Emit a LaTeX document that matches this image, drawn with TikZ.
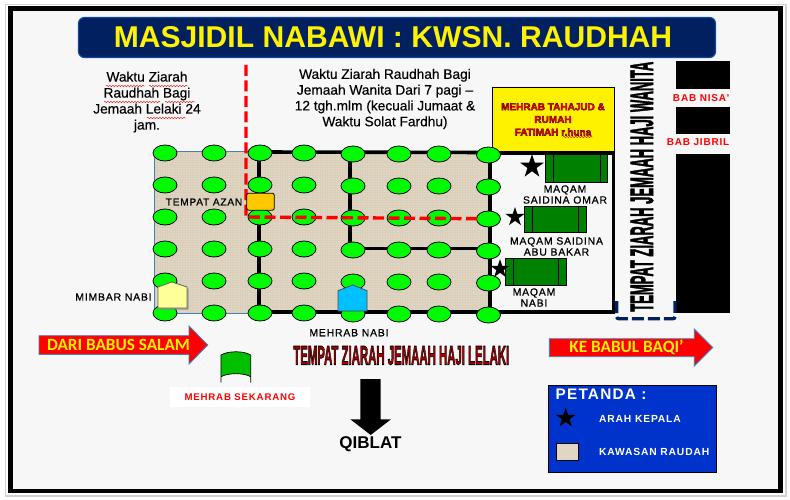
\documentclass[tikz,border=0pt]{standalone}
\usepackage{fontspec}
\usepackage{graphicx}
\setmainfont{Liberation Sans}
\newfontfamily\lsf[LetterSpace=8]{Liberation Sans}
\newfontfamily\lsfb[LetterSpace=8,FakeBold=0.7]{Liberation Sans}
\newfontfamily\regf[FakeBold=0.4]{Liberation Sans}
\newfontfamily\carl{Carlito}
\usetikzlibrary{shapes.geometric,decorations.pathmorphing}
\definecolor{navy}{HTML}{002060}
\definecolor{pillar}{HTML}{00FA00}
\definecolor{beige}{HTML}{DFD6C4}
\definecolor{beigeb}{HTML}{D9CFBA}
\definecolor{paper}{HTML}{F7F7F7}
\definecolor{tomb}{HTML}{008000}
\definecolor{arrowedge}{HTML}{4A7EBB}
\newcommand{\fs}[1]{\fontsize{#1}{#1}\selectfont}
\newcommand{\bls}[1]{\setlength{\baselineskip}{#1pt}}
\newcommand{\strk}[3]{\special{pdf:code 2 Tr #1 w #2 RG}#3\special{pdf:code 0 Tr}}
\tikzset{
  txt/.style={inner sep=0pt,align=center,text=black},
  pillarnode/.style={ellipse,draw=black,line width=.8pt,fill=pillar,minimum width=24pt,minimum height=16pt,inner sep=0pt},
  wall/.style={line width=3.6pt,draw=black,line cap=butt},
  tombbox/.style={draw=black,line width=.9pt,fill=tomb},
  tombbar/.style={draw=black,line width=.6pt},
  starnode/.style={star,star points=5,star point ratio=2.618,fill=black,inner sep=0pt},
  wavy/.style={draw=red!85!black,line width=.45pt,decorate,decoration={snake,amplitude=.6pt,segment length=3pt}},
  redarrow/.style={fill=red,draw=arrowedge,line width=.9pt,line join=miter},
  arrowtxt/.style={inner sep=0pt,text=yellow,font=\carl\bfseries\fs{17.2}},
  lab/.style={inner sep=0pt,align=center,text=black,font=\lsfb\fs{10.4}},
  redlab/.style={inner sep=0pt,text=red,font=\lsf\bfseries\fs{10}},
  whitelab/.style={inner sep=0pt,text=white,font=\lsf\bfseries\fs{10.3}},
}
\begin{document}
\begin{tikzpicture}[x=1pt,y=-1pt]
\useasboundingbox (0,0) rectangle (790,500);
% frame
\fill[white] (0,0) rectangle (790,500);
\fill[black!18] (5,4) rectangle (787,497);
\fill[white] (6,5) rectangle (785,495);
\fill[black] (8,6) rectangle (783,493);
\fill[paper] (12.5,11) rectangle (778,489);
% title
\node[draw={rgb,255:red,20;green,70;blue,160},line width=1.2pt,fill=navy,rounded corners=6pt,minimum width=637pt,minimum height=40pt,inner sep=0pt] (titlebox) at (397,37.5) {};
\node[inner sep=0pt,text=yellow,font=\bfseries\fs{30.1}] (title) at (393,37.5) {MASJIDIL NABAWI : KWSN. RAUDHAH};
% header texts
\node[txt,font=\regf\fs{13.7}\bls{16}] (leftnote) at (147,102) {Waktu Ziarah\\Raudhah Bagi\\Jemaah Lelaki 24\\jam.};
\node[txt,font=\regf\fs{13.7}\bls{15.8}] (rightnote) at (385,99) {Waktu Ziarah Raudhah Bagi\\Jemaah Wanita Dari 7 pagi –\\12 tgh.mlm (kecuali Jumaat \&\\Waktu Solat Fardhu)};
\draw[wavy] (106,86) -- (145,86);
\draw[wavy] (149,86) -- (188,86);
\draw[wavy] (104,102) -- (160,102);
\draw[wavy] (165,102) -- (195,102);
\draw[wavy] (147,118) -- (186,118);
% raudhah area
\fill[beige] (154.5,151.5) rectangle (490,313);
\begin{scope}
\clip (154.5,151.5) rectangle (490,313);
\draw[beigeb,line width=.5pt,step=2.5pt] (154,151) grid (491,314);
\end{scope}
\draw[arrowedge,line width=.8pt] (260,151.5) -- (154.5,151.5) -- (154.5,313) -- (260,313);
% yellow box
\node[draw=black,line width=.9pt,fill=yellow,minimum width=122pt,minimum height=64pt,inner sep=0pt] (mehrabbox) at (553,119) {};
\node[inner sep=0pt,align=center,text=red,font=\bfseries\fs{10}\bls{12.7}] (mehrabtxt) at (553,119.5) {\strk{.35}{.35 0 0}{MEHRAB TAHAJUD \&}\\\strk{.35}{.35 0 0}{RUMAH}\\\strk{.35}{.35 0 0}{FATIMAH r.huna}};
\draw[wavy] (563,137) -- (593,137);
% walls
\draw[wall] (259,152) -- (490,152.5) -- (490,312) -- (259,312) -- cycle;
\draw[wall] (350,152) -- (350,250);
\draw[wall] (350,248.5) -- (490,248.5);
\draw[wall] (490,153) -- (615,153);
\draw[wall] (613.3,152) -- (613.3,313.5);
\draw[wall] (490,311.7) -- (615,311.7);
% pillars
\foreach \x/\c [count=\i] in {165/0,214/0,260/0,304/0,353/1,399/1,439/1,488.5/2}{
  \foreach \y [count=\j] in {153,185,217,249,281,313}{
    \node[pillarnode] (p\i-\j) at (\x,\y+\c) {};
  }
}
% red dashed route
\coordinate (routea) at (246,65);
\coordinate (routeb) at (246,217);
\coordinate (routec) at (478,218.7);
\draw[red,line width=3.4pt,dash pattern=on 11pt off 4.5pt] (routea) -- (routeb) -- (routec);
% azan
\node[draw=black,line width=.8pt,fill={rgb,255:red,255;green,200;blue,0},rounded corners=2pt,minimum width=27.5pt,minimum height=17pt,inner sep=0pt] (azanbox) at (260.5,201.7) {};
\node[lab,font=\lsfb\fs{10.1}] (azan) at (204,202) {TEMPAT AZAN};
% mimbar and mehrab
\fill[black!45,opacity=.8] (159.5,288.5) -- (173,283.5) -- (188.5,288.5) -- (188.5,309.5) -- (159.5,309.5) -- cycle;
\draw[fill={rgb,255:red,255;green,255;blue,153},draw=black!60,line width=.8pt] (158,287) -- (172,282) -- (187,287) -- (187,308) -- (158,308) -- cycle;
\node[lab] (mimbar) at (113.5,297) {MIMBAR NABI};
\draw[fill={rgb,255:red,0;green,192;blue,255},draw=black!70,line width=.8pt] (338,290.7) -- (352.7,285) -- (367,290.7) -- (367,311) -- (338,311) -- cycle;
\node[lab] (mehrabnabi) at (349,332.7) {MEHRAB NABI};
% tombs
\draw[tombbox] (545.7,154.5) rectangle (607.7,182.7);
\draw[tombbar] (553.3,154.5) -- (553.3,182.7) (600,154.5) -- (600,182.7);
\draw[tombbox] (524.3,206) rectangle (586.3,232.7);
\draw[tombbar] (532.3,206) -- (532.3,232.7) (578.7,206) -- (578.7,232.7);
\draw[tombbox] (505.3,258) rectangle (566.7,285.7);
\draw[tombbar] (513.3,258) -- (513.3,285.7) (558.7,258) -- (558.7,285.7);
\node[starnode,minimum size=25pt] (staromar) at (532,166.5) {};
\node[starnode,minimum size=20pt] (starabu) at (515,217) {};
\node[starnode,minimum size=20pt] (starnabi) at (500,269) {};
\node[lab] (omar) at (565,194.5) {MAQAM\\[.6pt]SAIDINA OMAR};
\node[lab] (abu) at (556.5,246.5) {MAQAM SAIDINA\\[.6pt]ABU BAKAR};
\node[lab] (nabi) at (534,297.5) {MAQAM\\[.6pt]NABI};
% black blocks and gates
\fill[black] (676,61) rectangle (730,89);
\fill[black] (676,107) rectangle (730,133.7);
\fill[black] (676,154) rectangle (730,313.3);
\node[redlab,anchor=east] (nisa) at (729.5,98) {BAB NISA'};
\node[redlab,anchor=east] (jibril) at (729.5,142) {BAB JIBRIL};
% women's area
\node[inner sep=0pt,rotate=90,font=\bfseries] (wanita) at (642,186.7) {\resizebox{250pt}{22.3pt}{\strk{.25}{0 0 0}{TEMPAT ZIARAH JEMAAH HAJI WANITA}}};
\draw[navy,line width=3.4pt,dash pattern=on 12pt off 4pt,rounded corners=2pt] (616.7,301) -- (616.7,318.7) -- (675,318.7) -- (675,301);
% arrows
\draw[redarrow] (39,335.7) -- (189,335.7) -- (189,326) -- (207.7,345) -- (189,364) -- (189,354.3) -- (39,354.3) -- cycle;
\node[arrowtxt] (babus) at (118.5,345) {DARI BABUS SALAM};
\draw[redarrow] (549.3,338.7) -- (694.3,338.7) -- (694.3,329) -- (712.7,347.5) -- (694.3,366) -- (694.3,356.7) -- (549.3,356.7) -- cycle;
\node[arrowtxt] (baqi) at (626.5,347.5) {KE BABUL BAQI’};
% men's text
\node[inner sep=0pt,text={rgb,255:red,170;green,0;blue,0},font=\bfseries] (lelaki) at (401.3,355.5) {\resizebox{216pt}{18.5pt}{\strk{.3}{0 0 0}{TEMPAT ZIARAH JEMAAH HAJI LELAKI}}};
% mehrab sekarang
\path[fill={rgb,255:red,0;green,192;blue,0}] (221,355) .. controls (228,350.7) and (244,350.7) .. (250.7,355) -- (250.7,376.7) .. controls (244,372.7) and (228,372.7) .. (221,376.7) -- cycle;
\draw[black,line width=.7pt] (221,382.7) -- (221,355) .. controls (228,350.7) and (244,350.7) .. (250.7,355) -- (250.7,382.7);
\draw[black,line width=.7pt] (221,376.7) .. controls (228,372.7) and (244,372.7) .. (250.7,376.7);
\node[fill=white,minimum width=140pt,minimum height=19.7pt,inner sep=0pt] (sekbox) at (240,396.9) {};
\node[redlab,font=\lsf\bfseries\fs{9.7}] (sek) at (240,396.7) {MEHRAB SEKARANG};
% qiblat
\fill[black] (360.3,379) -- (380.7,379) -- (380.7,419.3) -- (391,419.3) -- (370.7,435) -- (350.3,419.3) -- (360.3,419.3) -- cycle;
\node[inner sep=0pt,font=\bfseries\fs{17}] (qiblat) at (370.4,444) {QIBLAT};
% legend
\node[draw=black,line width=.9pt,fill={rgb,255:red,0;green,51;blue,204},minimum width=168pt,minimum height=87pt,inner sep=0pt] (legend) at (632.5,428.8) {};
\node[inner sep=0pt,anchor=west,text=white,font=\lsf\bfseries\fs{15.3}] (petanda) at (555.5,394.5) {PETANDA :};
\node[starnode,minimum size=21pt] (legstar) at (565.7,418) {};
\node[whitelab,anchor=west] (arah) at (599,419) {ARAH KEPALA};
\node[draw=black,line width=.9pt,fill=beige,minimum width=22.4pt,minimum height=17.4pt,inner sep=0pt] (legsq) at (567.5,452) {};
\node[whitelab,anchor=west] (kawasan) at (599,452) {KAWASAN RAUDAH};
\end{tikzpicture}
\end{document}
